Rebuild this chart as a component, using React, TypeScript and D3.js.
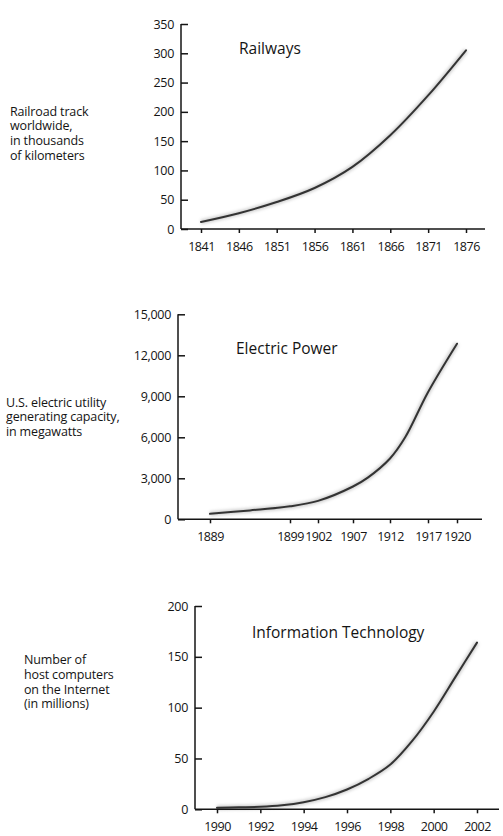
import React, { useRef, useEffect } from "react";
import * as d3 from "d3";

// --- data ---
const railYears = [1841, 1846, 1851, 1856, 1861, 1866, 1871, 1876];
const railTrack = [12, 27, 46, 70, 106, 160, 228, 305];
const railYTicks = [0, 50, 100, 150, 200, 250, 300, 350];
const railXTicks = [1841, 1846, 1851, 1856, 1861, 1866, 1871, 1876];

const powerYears = [1889, 1894, 1899, 1902, 1907, 1909, 1912, 1914, 1917, 1920];
const powerCapacity = [400, 650, 950, 1350, 2400, 3050, 4450, 6000, 9300, 12850];
const powerYTicks = [0, 3000, 6000, 9000, 12000, 15000];
const powerXTicks = [1889, 1899, 1902, 1907, 1912, 1917, 1920];

const netYears = [1990, 1991, 1992, 1993, 1994, 1995, 1996, 1997, 1998, 1999, 2000, 2001, 2002];
const netHosts = [1.5, 2, 2.5, 4, 7, 12, 19.5, 30, 44, 67, 96, 130, 164];
const netYTicks = [0, 50, 100, 150, 200];
const netXTicks = [1990, 1992, 1994, 1996, 1998, 2000, 2002];

const FONT = "'Open Sans', 'Noto Sans', sans-serif";
const INK = "#141414";

type PanelProps = {
  years: number[];
  values: number[];
  xTicks: number[];
  yTicks: number[];
  xDomain: number[];
  xRange: number[];
  yRange: [number, number]; // [bottom(0), top(max)]
  axisLeftX: number;
  axisRightX: number;
  title: string;
  titleX: number;
  titleY: number;
  label: string[];
  labelX: number;
  labelY: number;
  yFormat?: (n: number) => string;
};

const Panel: React.FC<PanelProps> = (p) => {
  const gRef = useRef<SVGGElement>(null);

  useEffect(() => {
    const g = d3.select(gRef.current);
    g.selectAll("*").remove();

    // the printed axes are not perfectly even, so allow a piecewise scale
    const x = d3.scaleLinear().domain(p.xDomain).range(p.xRange);
    const yMax = p.yTicks[p.yTicks.length - 1];
    const y = d3.scaleLinear().domain([0, yMax]).range(p.yRange);

    const line = d3
      .line<number>()
      .x((_, i) => x(p.years[i]))
      .y((d) => y(d))
      .curve(d3.curveCatmullRom.alpha(0.5));

    // soft grey halo under the curve
    g.append("path")
      .attr("d", line(p.values))
      .attr("fill", "none")
      .attr("stroke", "#9a9a9a")
      .attr("stroke-width", 5)
      .attr("opacity", 0.45)
      .attr("filter", "url(#soft)");

    g.append("path")
      .attr("d", line(p.values))
      .attr("fill", "none")
      .attr("stroke", "#333")
      .attr("stroke-width", 2)
      .attr("stroke-linecap", "round");

    // axis lines
    g.append("line")
      .attr("x1", p.axisLeftX)
      .attr("x2", p.axisLeftX)
      .attr("y1", y(yMax))
      .attr("y2", y(0))
      .attr("stroke", INK)
      .attr("stroke-width", 1.5);
    g.append("line")
      .attr("x1", p.axisLeftX)
      .attr("x2", p.axisRightX)
      .attr("y1", y(0))
      .attr("y2", y(0))
      .attr("stroke", INK)
      .attr("stroke-width", 1.5);

    // y ticks point inward
    const ya = g
      .append("g")
      .attr("transform", `translate(${p.axisLeftX},0)`)
      .call(
        d3
          .axisLeft(y)
          .tickValues(p.yTicks)
          .tickSizeInner(-7)
          .tickSizeOuter(0)
          .tickPadding(7)
          .tickFormat((d) => (p.yFormat ? p.yFormat(+d) : String(d)))
      );
    ya.select(".domain").remove();
    ya.selectAll("line").attr("stroke", INK).attr("stroke-width", 1.5);
    ya.selectAll("text")
      .attr("font-family", FONT)
      .attr("font-size", 12.5)
      .attr("letter-spacing", -0.3)
      .attr("fill", INK);

    // x ticks point outward
    const xa = g
      .append("g")
      .attr("transform", `translate(0,${y(0)})`)
      .call(
        d3
          .axisBottom(x)
          .tickValues(p.xTicks)
          .tickSizeInner(4)
          .tickSizeOuter(0)
          .tickPadding(9)
          .tickFormat((d) => String(d))
      );
    xa.select(".domain").remove();
    xa.selectAll("line").attr("stroke", INK).attr("stroke-width", 1.5);
    xa.selectAll("text")
      .attr("font-family", FONT)
      .attr("font-size", 12.5)
      .attr("letter-spacing", -0.5)
      .attr("fill", INK);

    // title
    g.append("text")
      .attr("x", p.titleX)
      .attr("y", p.titleY)
      .attr("font-family", FONT)
      .attr("font-size", 15.5)
      .attr("fill", INK)
      .text(p.title);

    // left label
    const lbl = g
      .append("text")
      .attr("x", p.labelX)
      .attr("y", p.labelY)
      .attr("font-family", FONT)
      .attr("font-size", 12.5)
      .attr("letter-spacing", -0.15)
      .attr("fill", INK);
    p.label.forEach((t, i) => {
      lbl
        .append("tspan")
        .attr("x", p.labelX)
        .attr("y", p.labelY + i * 14.8)
        .text(t);
    });
  }, [p]);

  return <g ref={gRef} />;
};

export default function App() {
  return (
    <svg
      width={503}
      height={836}
      style={{ position: "absolute", left: 0, top: 0, background: "#fff" }}
    >
      <defs>
        <filter id="soft" x="-10%" y="-10%" width="120%" height="120%">
          <feGaussianBlur stdDeviation="1.6" />
        </filter>
      </defs>
      <rect width={503} height={836} fill="#fff" />
      <Panel
        years={railYears}
        values={railTrack}
        xTicks={railXTicks}
        yTicks={railYTicks}
        xDomain={[1841, 1876]}
        xRange={[201, 466]}
        yRange={[229, 24]}
        axisLeftX={181}
        axisRightX={485}
        title="Railways"
        titleX={239}
        titleY={54}
        label={["Railroad track", "worldwide,", "in thousands", "of kilometers"]}
        labelX={10}
        labelY={115.5}
      />
      <Panel
        years={powerYears}
        values={powerCapacity}
        xTicks={powerXTicks}
        yTicks={powerYTicks}
        xDomain={[1889, 1899, 1902, 1907, 1912, 1917, 1920]}
        xRange={[210, 290, 318, 353, 390, 428, 457]}
        yRange={[519.3, 314.3]}
        axisLeftX={178}
        axisRightX={482}
        title="Electric Power"
        titleX={236}
        titleY={354}
        label={["U.S. electric utility", "generating capacity,", "in megawatts"]}
        labelX={6}
        labelY={406.5}
        yFormat={d3.format(",")}
      />
      <Panel
        years={netYears}
        values={netHosts}
        xTicks={netXTicks}
        yTicks={netYTicks}
        xDomain={[1990, 2002]}
        xRange={[217, 477]}
        yRange={[809.3, 606]}
        axisLeftX={195}
        axisRightX={499}
        title="Information Technology"
        titleX={252}
        titleY={638}
        label={["Number of", "host computers", "on the Internet", "(in millions)"]}
        labelX={24}
        labelY={664}
      />
    </svg>
  );
}
